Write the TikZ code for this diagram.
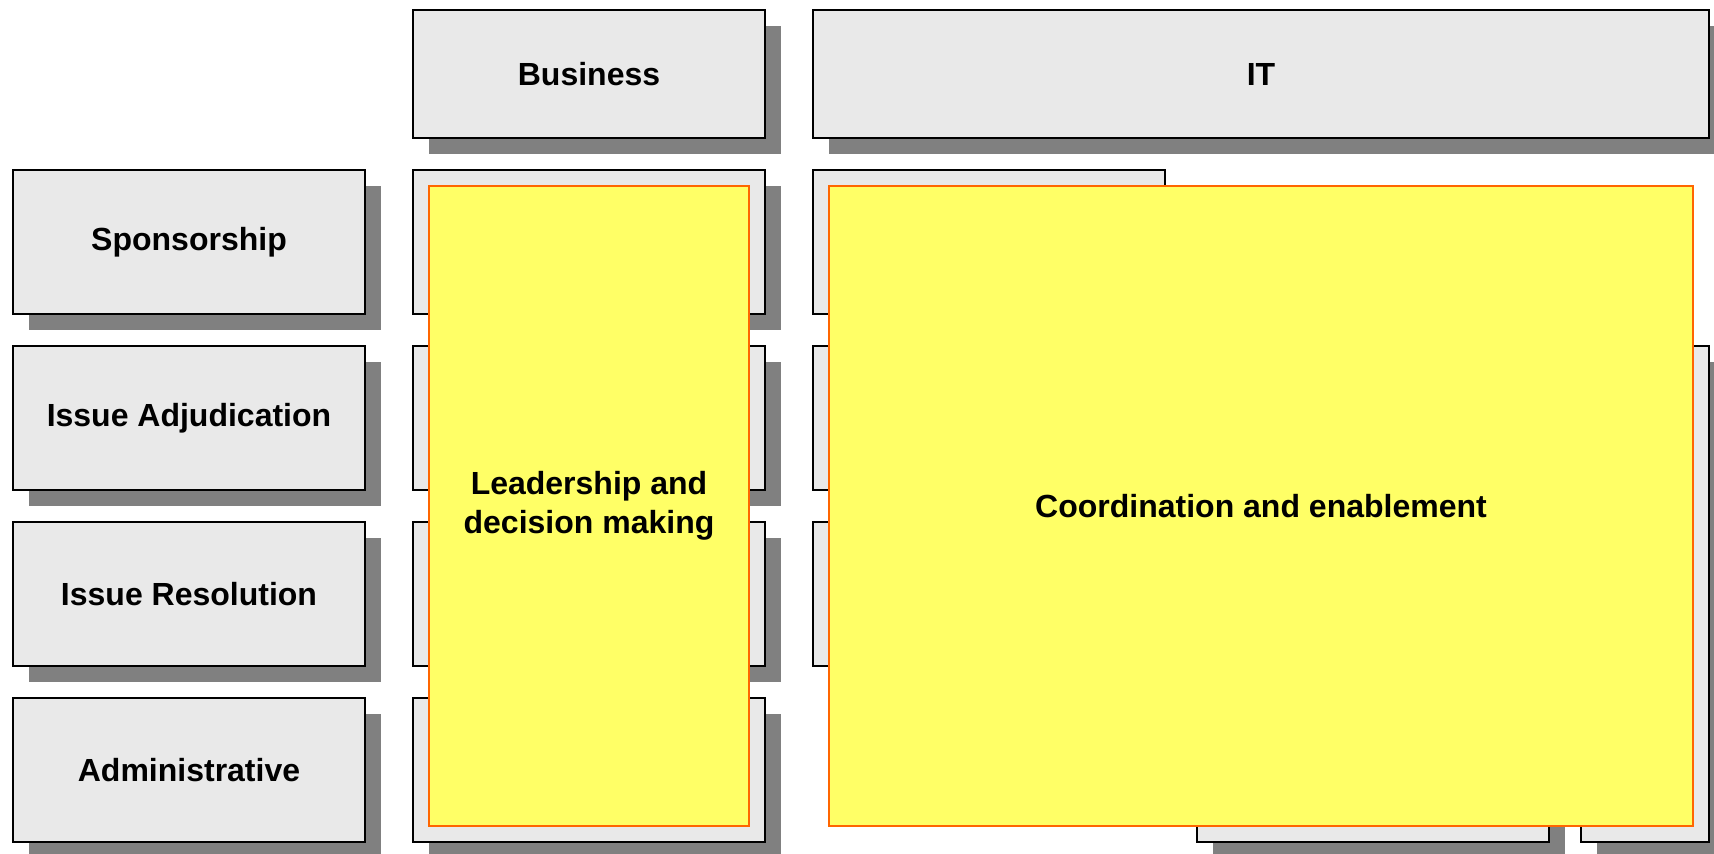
\documentclass[tikz,border=0pt]{standalone}
\usepackage{fontspec}
\setmainfont{Liberation Sans}
\usetikzlibrary{shadows}
\definecolor{cellgray}{HTML}{E9E9E9}
\definecolor{shadowgray}{HTML}{808080}
\definecolor{noteyellow}{HTML}{FFFF66}
\definecolor{noteorange}{HTML}{FF6600}
\tikzset{
  cell/.style={draw=black,line width=1.3pt,fill=cellgray,inner sep=0pt,
    minimum width=352pt,minimum height=144pt,
    drop shadow={shadow xshift=16pt,shadow yshift=-16pt,fill=shadowgray,opacity=1},
    font=\fontsize{32}{39}\selectfont\bfseries,align=center},
  note/.style={draw=noteorange,line width=1.3pt,fill=noteyellow,inner sep=0pt,
    font=\fontsize{32}{39}\selectfont\bfseries,align=center}
}
\begin{document}
\begin{tikzpicture}[x=1pt,y=-1pt]
\useasboundingbox (0,0) rectangle (1714,854);
% column headers
\node[cell,minimum height=128pt] (hdrBus) at (589,74) {Business};
\node[cell,minimum height=128pt,minimum width=896pt] (hdrIT) at (1261,74) {IT};
% row labels and business cells
\foreach \y/\name/\txt in {242/Spon/Sponsorship,418/Adj/Issue Adjudication,594/Res/Issue Resolution,770/Adm/Administrative}{
  \node[cell] (row\name) at (189,\y) {\txt};
  \node[cell] (bus\name) at (589,\y) {};
}
% IT cells
\node[cell] (itSpon) at (989,242) {};
\node[cell] (itAdj) at (989,418) {};
\node[cell] (itRes) at (989,594) {};
\node[cell] (itAdm) at (1373,770) {};
\node[cell,minimum width=128pt,minimum height=496pt] (itSide) at (1645,594) {};
% highlighted areas
\node[note,minimum width=320pt,minimum height=640pt] (lead) at (589,506) {Leadership and\\decision making};
\node[note,minimum width=864pt,minimum height=640pt] (coord) at (1261,506) {Coordination and enablement};
\end{tikzpicture}
\end{document}
